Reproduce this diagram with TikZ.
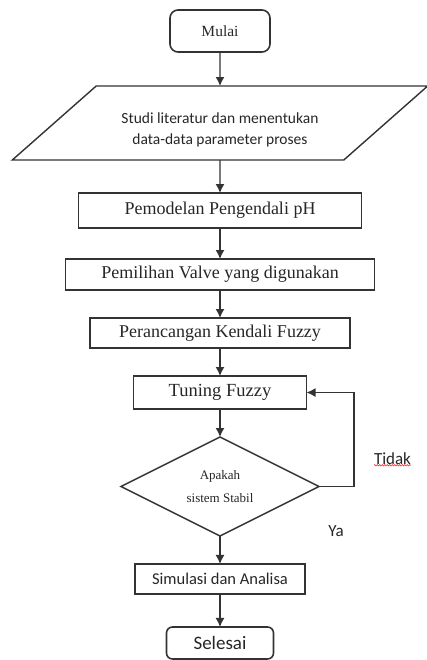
\documentclass[tikz,border=0pt]{standalone}
\usepackage{fontspec}
\setmainfont{Liberation Serif}
\newfontfamily\calibri{Carlito}
\usetikzlibrary{shapes.geometric, positioning, arrows.meta, decorations.pathmorphing}
\tikzset {
    >={Latex[length=9pt, width=9pt]},
    every node/.style={text=black!85, outer sep=0pt, inner sep=0pt},
    terminal/.style={rectangle, rounded corners=8pt, draw, line width=1.6pt},
    proses/.style={rectangle, draw, line width=1.6pt, font=\fontsize{18}{20}\selectfont},
    io/.style={trapezium, trapezium left angle=36, trapezium right angle=144,
        trapezium stretches=true, draw, line width=1.4pt, align=center},
    keputusan/.style={diamond, draw, line width=1.4pt, align=center},
    ket/.style={font=\calibri\fontsize{17}{19}\selectfont}
}

\begin{document}
\begin{tikzpicture}[x=1pt, y=1pt, ->, line width=1.4pt, color=black!80]
    \useasboundingbox (0,0) rectangle (426,-660);

    \node[terminal, minimum width=100pt, minimum height=42pt, font=\fontsize{15.5}{18}\selectfont] (mulai) at (220,-31) {Mulai};
    \node[io, below=34pt of mulai, minimum width=416pt, minimum height=74pt,
        font=\calibri\fontsize{15.5}{21}\selectfont] (studi) {\rule{0pt}{25pt}Studi literatur dan menentukan\\data-data parameter proses};
    \node[proses, below=33pt of studi, minimum width=283pt, minimum height=35pt] (model) {Pemodelan Pengendali pH};
    \node[proses, below=31pt of model, minimum width=309pt, minimum height=31pt] (valve) {Pemilihan Valve yang digunakan};
    \node[proses, below=28pt of valve, minimum width=260pt, minimum height=30pt] (rancang) {Perancangan Kendali Fuzzy};
    \node[proses, below=28pt of rancang, minimum width=173pt, minimum height=33pt,
        font=\fontsize{18.5}{20}\selectfont] (tuning) {Tuning Fuzzy};
    \node[keputusan, below=28pt of tuning, minimum width=198pt, minimum height=97pt,
        font=\fontsize{13}{23}\selectfont] (cek) {Apakah\\sistem Stabil};
    \node[proses, below=28pt of cek, minimum width=170pt, minimum height=30pt,
        font=\calibri\fontsize{16.5}{18}\selectfont] (simulasi) {Simulasi dan Analisa};
    \node[terminal, below=33pt of simulasi, minimum width=107pt, minimum height=32pt, rounded corners=6pt,
        font=\calibri\fontsize{19}{20}\selectfont] (selesai) {Selesai};
    \node[ket] (ya) at ([xshift=116pt, yshift=5pt]cek.south) {Ya};

    \draw (mulai) -- (studi);
    \draw (studi) -- (model);
    \draw (model) -- (valve);
    \draw (valve) -- (rancang);
    \draw (rancang) -- (tuning);
    \draw (tuning) -- (cek);
    \draw (cek) -- (simulasi);
    \draw (simulasi) -- (selesai);
    \draw (cek.east) -- ++(35pt,0) |- node[ket, pos=0.15, right=20pt] (tidak) {Tidak} (tuning.east);
    \draw[-, red!80, line width=0.6pt, decorate, decoration={snake, amplitude=0.7pt, segment length=2.5pt}]
        ([yshift=-1pt]tidak.south west) -- ([yshift=-1pt]tidak.south east);
\end{tikzpicture}
\end{document}
